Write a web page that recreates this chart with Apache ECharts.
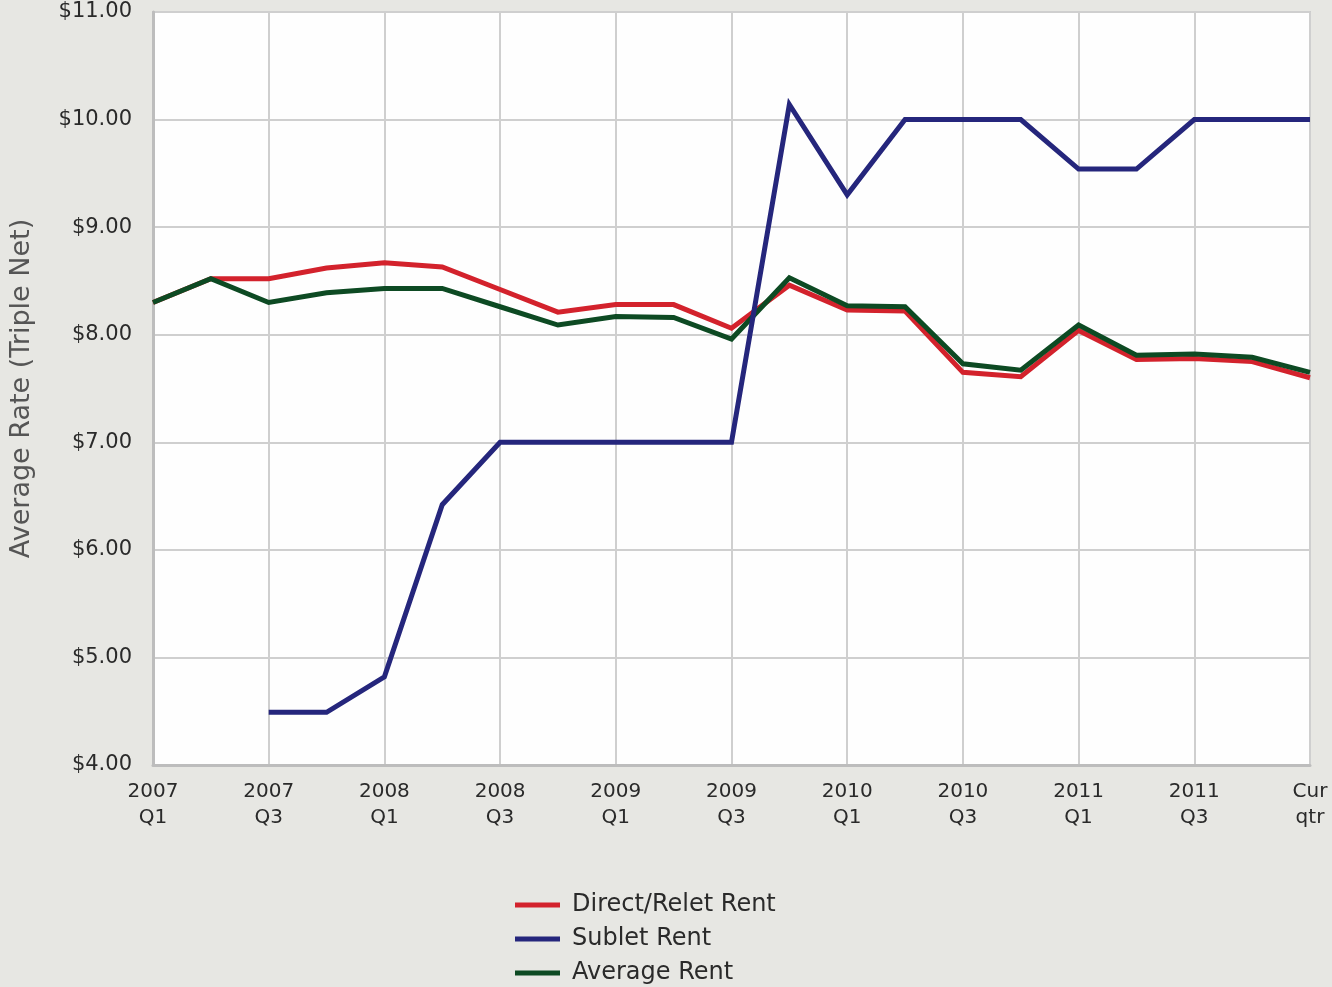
<!DOCTYPE html>
<html>
<head>
<meta charset="utf-8">
<script src="https://cdn.jsdelivr.net/npm/echarts@6/dist/echarts.min.js"></script>
<style>
  html, body { margin: 0; padding: 0; background: #e7e7e3; }
  #chart { width: 1332px; height: 987px; }
</style>
</head>
<body>
<div id="chart"></div>
<script>
// Quarterly categories (labels shown every other quarter)
const quarters = [
  '2007\nQ1', '2007\nQ2', '2007\nQ3', '2007\nQ4',
  '2008\nQ1', '2008\nQ2', '2008\nQ3', '2008\nQ4',
  '2009\nQ1', '2009\nQ2', '2009\nQ3', '2009\nQ4',
  '2010\nQ1', '2010\nQ2', '2010\nQ3', '2010\nQ4',
  '2011\nQ1', '2011\nQ2', '2011\nQ3', '2011\nQ4',
  'Cur\nqtr'
];

// Average triple-net rates ($ per sq ft)
const directReletRent = [
  8.30, 8.52, 8.52, 8.62, 8.67, 8.63, 8.42, 8.21, 8.28, 8.28, 8.06,
  8.46, 8.23, 8.22, 7.65, 7.61, 8.04, 7.77, 7.78, 7.75, 7.60
];
const subletRent = [
  null, null, 4.49, 4.49, 4.82, 6.42, 7.00, 7.00, 7.00, 7.00, 7.00,
  10.14, 9.30, 10.00, 10.00, 10.00, 9.54, 9.54, 10.00, 10.00, 10.00
];
const averageRent = [
  8.30, 8.52, 8.30, 8.39, 8.43, 8.43, 8.26, 8.09, 8.17, 8.16, 7.96,
  8.53, 8.27, 8.26, 7.73, 7.67, 8.09, 7.81, 7.82, 7.79, 7.65
];

const seriesNames = ['Direct/Relet Rent', 'Sublet Rent', 'Average Rent'];
const seriesColors = ['#d3222c', '#25267c', '#0d4a23'];

const chart = echarts.init(document.getElementById('chart'));

function lineSeries(name, data, color, z) {
  return {
    name: name,
    type: 'line',
    data: data,
    showSymbol: false,
    symbol: 'none',
    connectNulls: false,
    z: z,
    lineStyle: { color: color, width: 5, join: 'miter' },
    itemStyle: { color: color }
  };
}

chart.setOption({
  backgroundColor: '#e7e7e3',
  animation: false,
  grid: {
    left: 149,
    right: 22,
    top: 12,
    bottom: 222,
    show: true,
    backgroundColor: '#fefefe',
    borderColor: '#cbcbcb',
    borderWidth: 2
  },
  xAxis: {
    type: 'category',
    data: quarters,
    boundaryGap: false,
    axisLine: { show: true, lineStyle: { color: '#bdbdbd', width: 3 } },
    axisTick: { show: false },
    axisLabel: {
      interval: 1,
      margin: 14,
      color: '#2a2a2a',
      fontFamily: 'DejaVu Sans',
      fontSize: 20,
      lineHeight: 26
    },
    splitLine: { show: true, interval: 1, lineStyle: { color: '#cfcfcf', width: 2 } }
  },
  yAxis: {
    type: 'value',
    min: 4,
    max: 11,
    interval: 1,
    name: 'Average Rate (Triple Net)',
    nameLocation: 'middle',
    nameGap: 118,
    nameRotate: 90,
    nameTextStyle: { color: '#555', fontFamily: 'DejaVu Sans', fontSize: 27 },
    axisLine: { show: true, lineStyle: { color: '#bdbdbd', width: 3 } },
    axisTick: { show: false },
    axisLabel: {
      margin: 21,
      color: '#2a2a2a',
      fontFamily: 'DejaVu Sans',
      fontSize: 21,
      formatter: function (v) { return '$' + v.toFixed(2); }
    },
    splitLine: { show: true, lineStyle: { color: '#cfcfcf', width: 2 } }
  },
  legend: {
    orient: 'vertical',
    left: 510,
    top: 888,
    height: 140,
    icon: 'rect',
    itemWidth: 45,
    itemHeight: 5,
    itemGap: 10,
    data: seriesNames,
    textStyle: {
      color: '#2a2a2a',
      fontFamily: 'DejaVu Sans',
      fontSize: 24,
      lineHeight: 24,
      padding: [0, 0, 0, 7]
    }
  },
  series: [
    lineSeries(seriesNames[0], directReletRent, seriesColors[0], 2),
    lineSeries(seriesNames[2], averageRent, seriesColors[2], 3),
    lineSeries(seriesNames[1], subletRent, seriesColors[1], 4)
  ]
});
</script>
</body>
</html>
